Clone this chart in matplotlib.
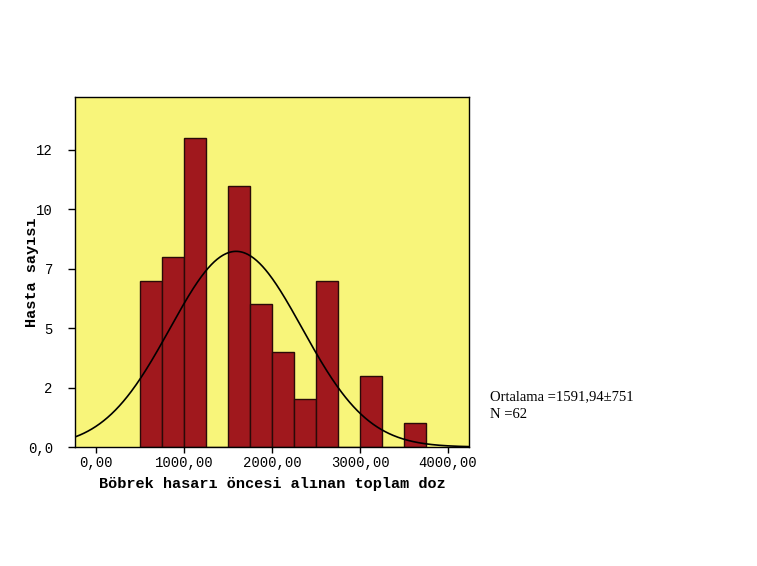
import numpy as np
import matplotlib.pyplot as plt

# histogram bins (lower edges) and counts
bin_edges = [500, 750, 1000, 1250, 1500, 1750, 2000, 2250, 2500, 2750, 3000, 3250, 3500, 3750]
counts = [7, 8, 13, 0, 11, 6, 4, 2, 7, 0, 3, 0, 1]
mean_val = 1591.94
std_val = 751
n_total = 62

y_ticks = [0, 2.5, 5, 7.5, 10, 12.5]
y_labels = ['0,0', '2', '5', '7', '10', '12']
x_ticks = [0, 1000, 2000, 3000, 4000]
x_labels = ['0,00', '1000,00', '2000,00', '3000,00', '4000,00']

W, H = 757, 566
fig = plt.figure(figsize=(W / 100, H / 100), dpi=100)
ax = fig.add_axes([75 / W, 1 - 447 / H, (469 - 75) / W, (447 - 97) / H])
ax.set_facecolor('#F8F57A')

width = bin_edges[1] - bin_edges[0]
ax.bar(bin_edges[:-1], counts, width=width, align='edge',
       color='#A0181D', edgecolor='#2a0a08', linewidth=1.0)

# normal curve scaled to counts
xs = np.linspace(-239, 4239, 400)
ys = n_total * width / (std_val * np.sqrt(2 * np.pi)) * np.exp(-0.5 * ((xs - mean_val) / std_val) ** 2)
ax.plot(xs, ys, color='black', linewidth=1.2)

ax.set_xlim(-239, 4239)
ax.set_ylim(0, 14.73)
ax.set_yticks(y_ticks)
ax.set_yticklabels(y_labels)
ax.set_xticks(x_ticks)
ax.set_xticklabels(x_labels)

mono = 'Liberation Mono'
for lab in ax.get_xticklabels() + ax.get_yticklabels():
    lab.set_family(mono)
    lab.set_fontsize(10)
ax.tick_params(axis='y', direction='out', length=5, width=1, colors='black', pad=11)
ax.tick_params(axis='x', direction='out', length=4.5, width=1, colors='black', pad=2)
for sp in ax.spines.values():
    sp.set_color('black')
    sp.set_linewidth(1.0)

ax.set_xlabel('Böbrek hasarı öncesi alınan toplam doz', family=mono,
              fontweight='bold', fontsize=11, labelpad=5)
ax.set_ylabel('Hasta sayısı', family=mono, fontweight='bold', fontsize=11)
ax.yaxis.set_label_coords(-0.092, 0.5)

fig.text(490 / W, 1 - 397 / H, 'Ortalama =1591,94±751', family='Liberation Serif',
         fontsize=10.5, va='center', ha='left')
fig.text(490 / W, 1 - 414 / H, 'N =62', family='Liberation Serif',
         fontsize=10.5, va='center', ha='left')

fig.savefig('out.png', dpi=100)
